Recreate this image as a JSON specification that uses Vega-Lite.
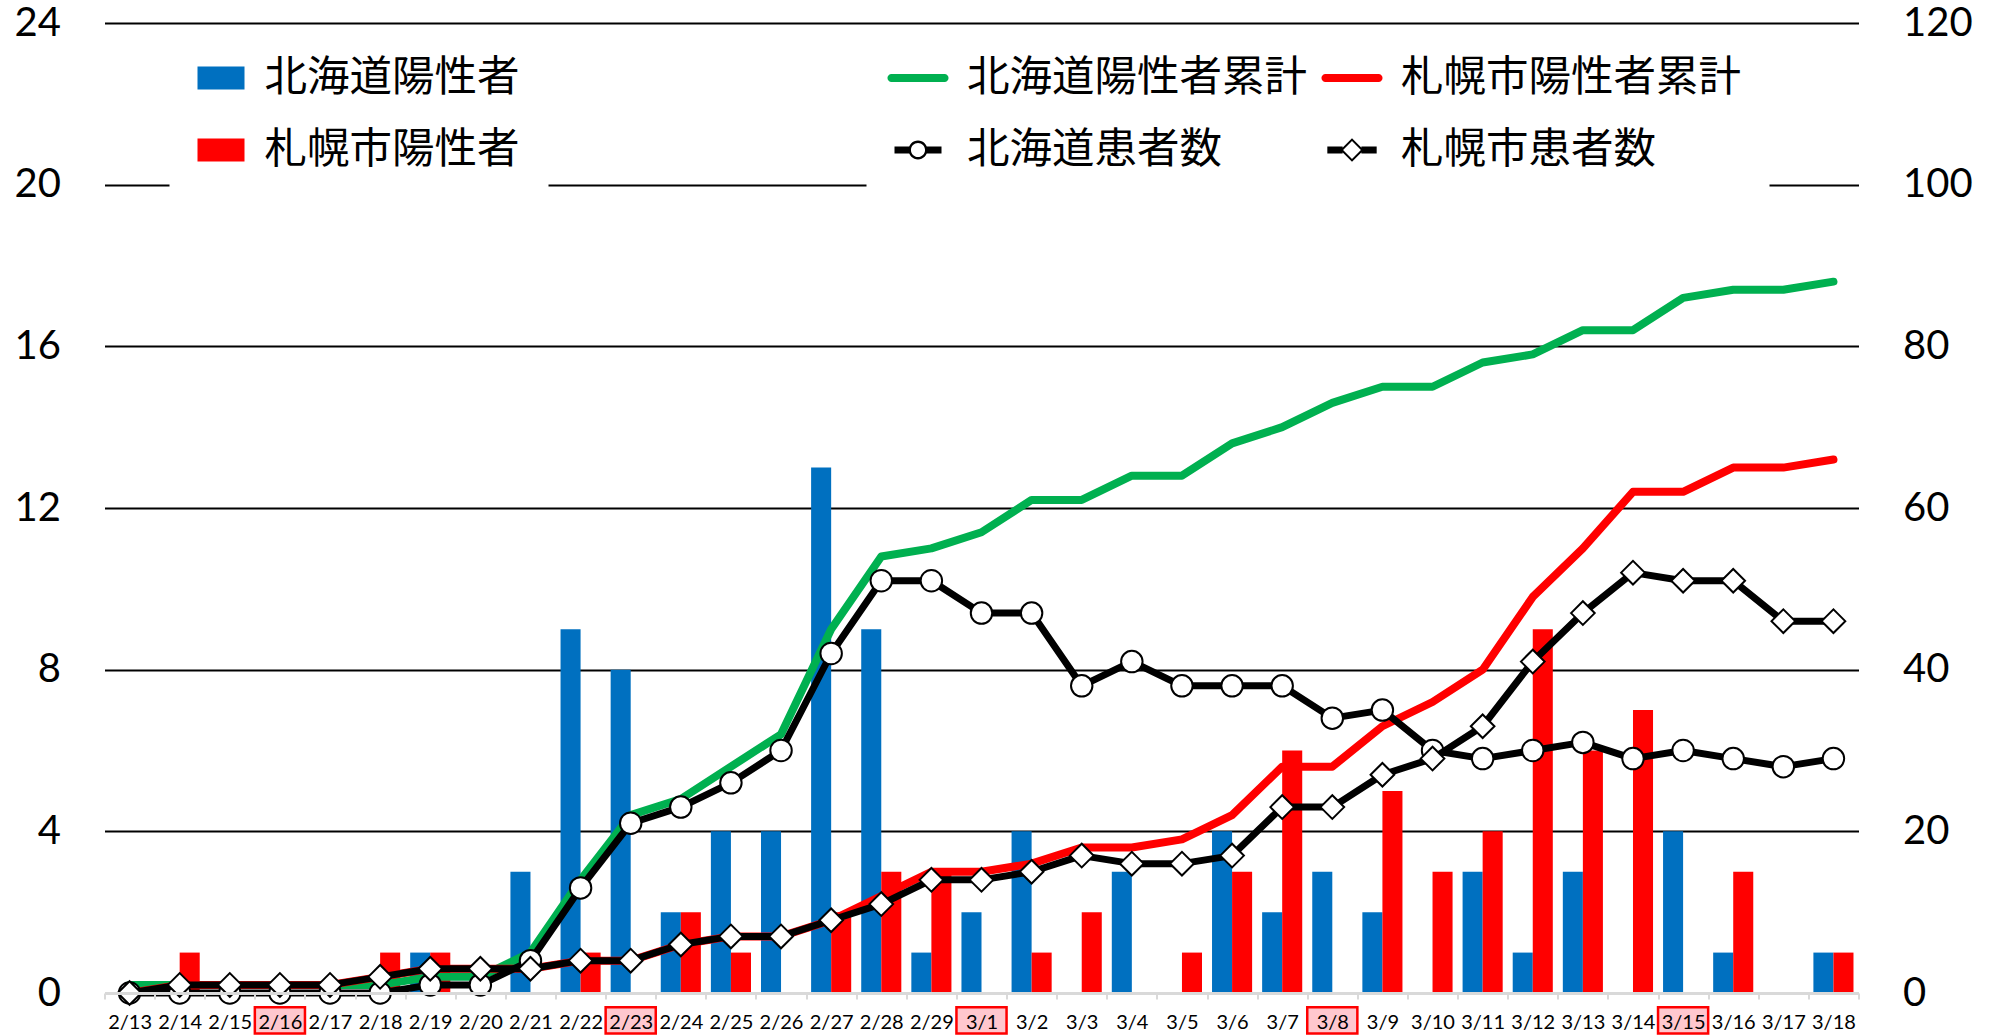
{
  "$schema": "https://vega.github.io/schema/vega-lite/v6.json",
  "width": 1754,
  "height": 970,
  "autosize": {"type": "none"},
  "padding": {"left": 104.5, "top": 23, "right": 143.5, "bottom": 43},
  "background": "white",
  "config": {"view": {"stroke": null}, "font": "Lato"},
  "data": {
    "values": [
      {"date": "2/13", "北海道陽性者": 0, "札幌市陽性者": 0, "北海道陽性者累計": 1, "札幌市陽性者累計": 0, "北海道患者数": 0, "札幌市患者数": 0, "holiday": false},
      {"date": "2/14", "北海道陽性者": 0, "札幌市陽性者": 1, "北海道陽性者累計": 1, "札幌市陽性者累計": 1, "北海道患者数": 0, "札幌市患者数": 1, "holiday": false},
      {"date": "2/15", "北海道陽性者": 0, "札幌市陽性者": 0, "北海道陽性者累計": 1, "札幌市陽性者累計": 1, "北海道患者数": 0, "札幌市患者数": 1, "holiday": false},
      {"date": "2/16", "北海道陽性者": 0, "札幌市陽性者": 0, "北海道陽性者累計": 1, "札幌市陽性者累計": 1, "北海道患者数": 0, "札幌市患者数": 1, "holiday": true},
      {"date": "2/17", "北海道陽性者": 0, "札幌市陽性者": 0, "北海道陽性者累計": 1, "札幌市陽性者累計": 1, "北海道患者数": 0, "札幌市患者数": 1, "holiday": false},
      {"date": "2/18", "北海道陽性者": 0, "札幌市陽性者": 1, "北海道陽性者累計": 1, "札幌市陽性者累計": 2, "北海道患者数": 0, "札幌市患者数": 2, "holiday": false},
      {"date": "2/19", "北海道陽性者": 1, "札幌市陽性者": 1, "北海道陽性者累計": 2, "札幌市陽性者累計": 3, "北海道患者数": 1, "札幌市患者数": 3, "holiday": false},
      {"date": "2/20", "北海道陽性者": 0, "札幌市陽性者": 0, "北海道陽性者累計": 2, "札幌市陽性者累計": 3, "北海道患者数": 1, "札幌市患者数": 3, "holiday": false},
      {"date": "2/21", "北海道陽性者": 3, "札幌市陽性者": 0, "北海道陽性者累計": 5, "札幌市陽性者累計": 3, "北海道患者数": 4, "札幌市患者数": 3, "holiday": false},
      {"date": "2/22", "北海道陽性者": 9, "札幌市陽性者": 1, "北海道陽性者累計": 14, "札幌市陽性者累計": 4, "北海道患者数": 13, "札幌市患者数": 4, "holiday": false},
      {"date": "2/23", "北海道陽性者": 8, "札幌市陽性者": 0, "北海道陽性者累計": 22, "札幌市陽性者累計": 4, "北海道患者数": 21, "札幌市患者数": 4, "holiday": true},
      {"date": "2/24", "北海道陽性者": 2, "札幌市陽性者": 2, "北海道陽性者累計": 24, "札幌市陽性者累計": 6, "北海道患者数": 23, "札幌市患者数": 6, "holiday": false},
      {"date": "2/25", "北海道陽性者": 4, "札幌市陽性者": 1, "北海道陽性者累計": 28, "札幌市陽性者累計": 7, "北海道患者数": 26, "札幌市患者数": 7, "holiday": false},
      {"date": "2/26", "北海道陽性者": 4, "札幌市陽性者": 0, "北海道陽性者累計": 32, "札幌市陽性者累計": 7, "北海道患者数": 30, "札幌市患者数": 7, "holiday": false},
      {"date": "2/27", "北海道陽性者": 13, "札幌市陽性者": 2, "北海道陽性者累計": 45, "札幌市陽性者累計": 9, "北海道患者数": 42, "札幌市患者数": 9, "holiday": false},
      {"date": "2/28", "北海道陽性者": 9, "札幌市陽性者": 3, "北海道陽性者累計": 54, "札幌市陽性者累計": 12, "北海道患者数": 51, "札幌市患者数": 11, "holiday": false},
      {"date": "2/29", "北海道陽性者": 1, "札幌市陽性者": 3, "北海道陽性者累計": 55, "札幌市陽性者累計": 15, "北海道患者数": 51, "札幌市患者数": 14, "holiday": false},
      {"date": "3/1", "北海道陽性者": 2, "札幌市陽性者": 0, "北海道陽性者累計": 57, "札幌市陽性者累計": 15, "北海道患者数": 47, "札幌市患者数": 14, "holiday": true},
      {"date": "3/2", "北海道陽性者": 4, "札幌市陽性者": 1, "北海道陽性者累計": 61, "札幌市陽性者累計": 16, "北海道患者数": 47, "札幌市患者数": 15, "holiday": false},
      {"date": "3/3", "北海道陽性者": 0, "札幌市陽性者": 2, "北海道陽性者累計": 61, "札幌市陽性者累計": 18, "北海道患者数": 38, "札幌市患者数": 17, "holiday": false},
      {"date": "3/4", "北海道陽性者": 3, "札幌市陽性者": 0, "北海道陽性者累計": 64, "札幌市陽性者累計": 18, "北海道患者数": 41, "札幌市患者数": 16, "holiday": false},
      {"date": "3/5", "北海道陽性者": 0, "札幌市陽性者": 1, "北海道陽性者累計": 64, "札幌市陽性者累計": 19, "北海道患者数": 38, "札幌市患者数": 16, "holiday": false},
      {"date": "3/6", "北海道陽性者": 4, "札幌市陽性者": 3, "北海道陽性者累計": 68, "札幌市陽性者累計": 22, "北海道患者数": 38, "札幌市患者数": 17, "holiday": false},
      {"date": "3/7", "北海道陽性者": 2, "札幌市陽性者": 6, "北海道陽性者累計": 70, "札幌市陽性者累計": 28, "北海道患者数": 38, "札幌市患者数": 23, "holiday": false},
      {"date": "3/8", "北海道陽性者": 3, "札幌市陽性者": 0, "北海道陽性者累計": 73, "札幌市陽性者累計": 28, "北海道患者数": 34, "札幌市患者数": 23, "holiday": true},
      {"date": "3/9", "北海道陽性者": 2, "札幌市陽性者": 5, "北海道陽性者累計": 75, "札幌市陽性者累計": 33, "北海道患者数": 35, "札幌市患者数": 27, "holiday": false},
      {"date": "3/10", "北海道陽性者": 0, "札幌市陽性者": 3, "北海道陽性者累計": 75, "札幌市陽性者累計": 36, "北海道患者数": 30, "札幌市患者数": 29, "holiday": false},
      {"date": "3/11", "北海道陽性者": 3, "札幌市陽性者": 4, "北海道陽性者累計": 78, "札幌市陽性者累計": 40, "北海道患者数": 29, "札幌市患者数": 33, "holiday": false},
      {"date": "3/12", "北海道陽性者": 1, "札幌市陽性者": 9, "北海道陽性者累計": 79, "札幌市陽性者累計": 49, "北海道患者数": 30, "札幌市患者数": 41, "holiday": false},
      {"date": "3/13", "北海道陽性者": 3, "札幌市陽性者": 6, "北海道陽性者累計": 82, "札幌市陽性者累計": 55, "北海道患者数": 31, "札幌市患者数": 47, "holiday": false},
      {"date": "3/14", "北海道陽性者": 0, "札幌市陽性者": 7, "北海道陽性者累計": 82, "札幌市陽性者累計": 62, "北海道患者数": 29, "札幌市患者数": 52, "holiday": false},
      {"date": "3/15", "北海道陽性者": 4, "札幌市陽性者": 0, "北海道陽性者累計": 86, "札幌市陽性者累計": 62, "北海道患者数": 30, "札幌市患者数": 51, "holiday": true},
      {"date": "3/16", "北海道陽性者": 1, "札幌市陽性者": 3, "北海道陽性者累計": 87, "札幌市陽性者累計": 65, "北海道患者数": 29, "札幌市患者数": 51, "holiday": false},
      {"date": "3/17", "北海道陽性者": 0, "札幌市陽性者": 0, "北海道陽性者累計": 87, "札幌市陽性者累計": 65, "北海道患者数": 28, "札幌市患者数": 46, "holiday": false},
      {"date": "3/18", "北海道陽性者": 1, "札幌市陽性者": 1, "北海道陽性者累計": 88, "札幌市陽性者累計": 66, "北海道患者数": 29, "札幌市患者数": 46, "holiday": false}
    ]
  },
  "layer": [
    {
      "layer": [
        {
          "transform": [{"fold": ["北海道陽性者", "札幌市陽性者"], "as": ["series", "count"]}],
          "mark": {"type": "bar"},
          "encoding": {
            "x": {
              "field": "date", "type": "nominal",
              "scale": {"domain": ["2/13","2/14","2/15","2/16","2/17","2/18","2/19","2/20","2/21","2/22","2/23","2/24","2/25","2/26","2/27","2/28","2/29","3/1","3/2","3/3","3/4","3/5","3/6","3/7","3/8","3/9","3/10","3/11","3/12","3/13","3/14","3/15","3/16","3/17","3/18"], "paddingInner": 0, "paddingOuter": 0},
              "axis": {"title": null, "labelAngle": 0, "labelFont": "Lato", "labelFontSize": 20, "labelColor": "black", "labelPadding": 13, "tickSize": 6, "tickColor": "#D9D9D9", "tickWidth": 2, "tickBand": "extent", "domainColor": "#D9D9D9", "domainWidth": 3, "zindex": 1}
            },
            "xOffset": {"field": "series", "type": "nominal", "scale": {"domain": ["北海道陽性者", "札幌市陽性者"], "paddingInner": 0, "paddingOuter": 0.25}},
            "y": {
              "field": "count", "type": "quantitative",
              "scale": {"domain": [0, 24], "nice": false},
              "axis": {"title": null, "orient": "left", "values": [0, 4, 8, 12, 16, 20, 24], "grid": true, "gridColor": {"condition": {"test": "datum.value === 0", "value": "transparent"}, "value": "black"}, "gridWidth": 2, "domain": false, "ticks": false, "labelFont": "Lato", "labelFontSize": 40, "labelPadding": 44, "labelColor": "black"}
            },
            "fill": {
              "field": "series", "type": "nominal",
              "scale": {"domain": ["北海道陽性者", "札幌市陽性者"], "range": ["#0070C0", "#FF0000"]},
              "legend": {"title": null, "orient": "none", "legendX": 65, "legendY": 3.5, "direction": "vertical", "fillColor": "white", "padding": 28, "symbolType": "M-1,-0.49H1V0.49H-1Z", "symbolSize": 2209, "symbolStrokeWidth": 0, "symbolOpacity": 1, "labelFont": "Noto Sans CJK JP", "labelFontSize": 42.5, "labelOffset": 20, "labelLimit": 600, "rowPadding": 27, "labelColor": "black"}
            }
          }
        },
        {
          "transform": [{"filter": "datum.holiday"}],
          "mark": {"type": "rect", "fill": "#FFC7CE", "stroke": "#FF0000", "strokeWidth": 2.5},
          "encoding": {
            "x": {"field": "date", "type": "nominal"},
            "y": {"datum": -0.35, "type": "quantitative"},
            "y2": {"datum": -1.0}
          }
        }
      ]
    },
    {
      "layer": [
        {
          "transform": [{"fold": ["北海道陽性者累計", "札幌市陽性者累計"], "as": ["series", "total"]}],
          "mark": {"type": "line", "strokeWidth": 8, "strokeCap": "round", "strokeJoin": "round"},
          "encoding": {
            "x": {"field": "date", "type": "nominal"},
            "y": {
              "field": "total", "type": "quantitative",
              "scale": {"domain": [0, 120], "nice": false},
              "axis": {"title": null, "orient": "right", "values": [0, 20, 40, 60, 80, 100, 120], "grid": false, "domain": false, "ticks": false, "labelFont": "Lato", "labelFontSize": 40, "labelPadding": 44, "labelColor": "black"}
            },
            "stroke": {
              "field": "series", "type": "nominal",
              "scale": {"domain": ["北海道陽性者累計", "北海道患者数", "札幌市陽性者累計", "札幌市患者数"], "range": ["#00B050", "#000000", "#FF0000", "#000000"]},
              "legend": {
                "title": null, "orient": "none", "legendX": 762, "legendY": 3.5, "columns": 2, "fillColor": "white", "padding": 28,
                "symbolSize": 2209, "labelFont": "Noto Sans CJK JP", "labelFontSize": 42.5, "labelOffset": 25.5, "labelLimit": 600, "rowPadding": 27, "columnPadding": 13, "labelColor": "black",
                "encode": {
                  "symbols": {
                    "update": {
                      "shape": {"signal": "datum.value === '北海道患者数' ? 'M-1,-0.15H-0.35V0.15H-1Z M0.35,-0.15H1V0.15H0.35Z M0.4,0A0.4,0.4 0 1 1 -0.4,0A0.4,0.4 0 1 1 0.4,0Z M0.3,0A0.3,0.3 0 1 0 -0.3,0A0.3,0.3 0 1 0 0.3,0Z' : datum.value === '札幌市患者数' ? 'M-1.05,-0.15H-0.4V0.15H-1.05Z M0.4,-0.15H1.05V0.15H0.4Z M0,-0.5L0.5,0L0,0.5L-0.5,0Z M0,-0.38L-0.38,0L0,0.38L0.38,0Z' : 'M-1.13,-0.17H1.13A0.17,0.17 0 0 1 1.13,0.17H-1.13A0.17,0.17 0 0 1 -1.13,-0.17Z'"},
                      "fill": {"signal": "datum.value === '北海道陽性者累計' ? '#00B050' : datum.value === '札幌市陽性者累計' ? '#FF0000' : '#000000'"},
                      "strokeWidth": {"value": 0},
                      "opacity": {"value": 1}
                    }
                  }
                }
              }
            }
          }
        },
        {
          "mark": {"type": "line", "color": "black", "strokeWidth": 7, "strokeJoin": "round", "point": {"filled": true, "shape": "circle", "size": 460, "fill": "white", "stroke": "black", "strokeWidth": 2, "opacity": 1}},
          "encoding": {
            "x": {"field": "date", "type": "nominal"},
            "y": {"field": "北海道患者数", "type": "quantitative", "scale": {"domain": [0, 120], "nice": false}, "axis": {"title": null, "orient": "right", "values": [0, 20, 40, 60, 80, 100, 120], "grid": false, "domain": false, "ticks": false, "labelFont": "Lato", "labelFontSize": 40, "labelPadding": 44, "labelColor": "black"}}
          }
        },
        {
          "mark": {"type": "line", "color": "black", "strokeWidth": 7, "strokeJoin": "round", "point": {"filled": true, "shape": "diamond", "size": 560, "fill": "white", "stroke": "black", "strokeWidth": 2, "opacity": 1}},
          "encoding": {
            "x": {"field": "date", "type": "nominal"},
            "y": {"field": "札幌市患者数", "type": "quantitative", "scale": {"domain": [0, 120], "nice": false}, "axis": {"title": null, "orient": "right", "values": [0, 20, 40, 60, 80, 100, 120], "grid": false, "domain": false, "ticks": false, "labelFont": "Lato", "labelFontSize": 40, "labelPadding": 44, "labelColor": "black"}}
          }
        }
      ]
    }
  ],
  "resolve": {"scale": {"y": "independent"}}
}
